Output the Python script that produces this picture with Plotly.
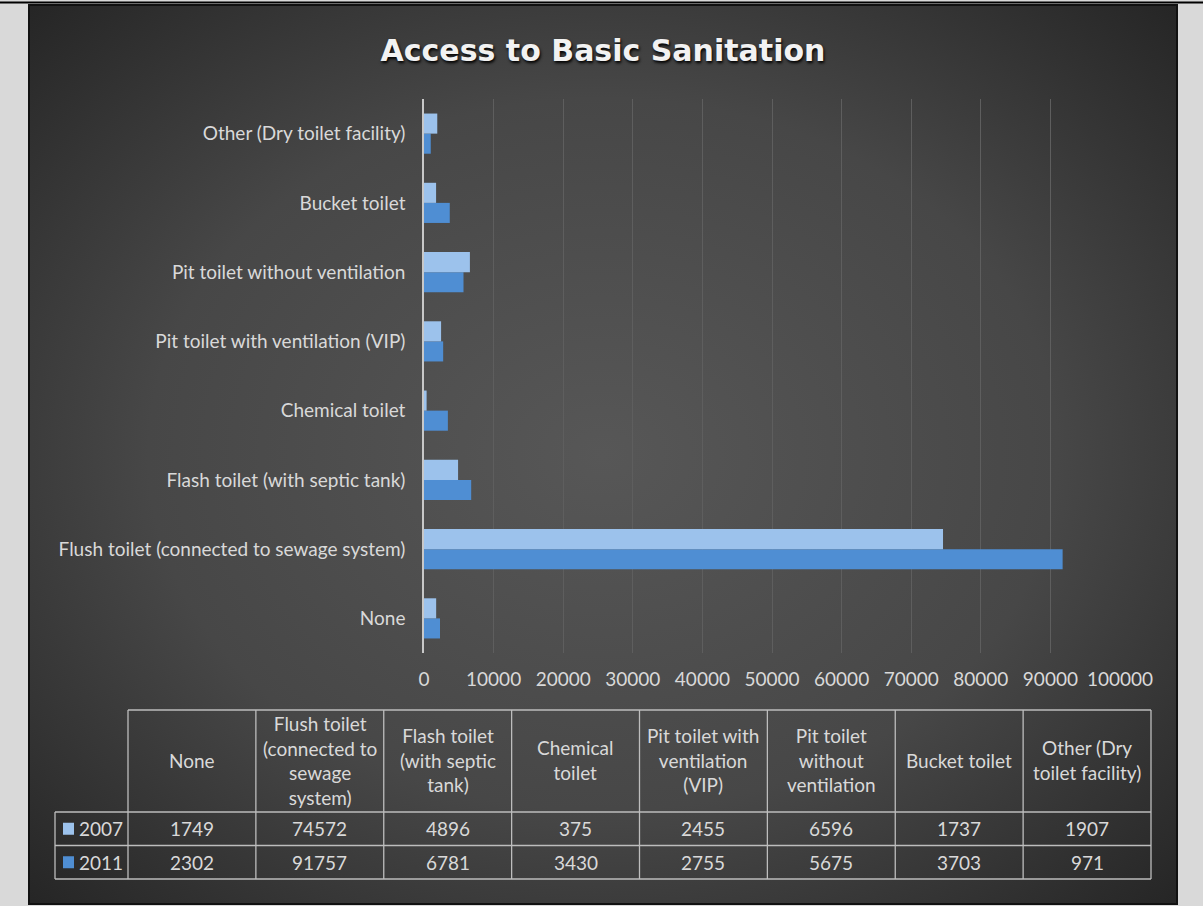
import base64
import plotly.graph_objects as go

# ---------------- data ----------------
categories = [
    "None",
    "Flush toilet (connected to sewage system)",
    "Flash toilet (with septic tank)",
    "Chemical toilet",
    "Pit toilet with ventilation (VIP)",
    "Pit toilet without ventilation",
    "Bucket toilet",
    "Other (Dry toilet facility)",
]
table_headers = [
    "None",
    "Flush toilet<br>(connected to<br>sewage<br>system)",
    "Flash toilet<br>(with septic<br>tank)",
    "Chemical<br>toilet",
    "Pit toilet with<br>ventilation<br>(VIP)",
    "Pit toilet<br>without<br>ventilation",
    "Bucket toilet",
    "Other (Dry<br>toilet facility)",
]
series_names = ["2007", "2011"]
values_2007 = [1749, 74572, 4896, 375, 2455, 6596, 1737, 1907]
values_2011 = [2302, 91757, 6781, 3430, 2755, 5675, 3703, 971]
x_tick_values = [0, 10000, 20000, 30000, 40000, 50000, 60000, 70000, 80000, 90000, 100000]
x_tick_labels = ["0", "10000", "20000", "30000", "40000", "50000", "60000", "70000", "80000", "90000", "100000"]
title_text = "Access to Basic Sanitation"

# ---------------- styles / layout constants ----------------
W, H = 1203, 906
color_2007 = "#9cc2ec"
color_2011 = "#4f8ed3"
text_color = "#d9d9d9"
line_color = "#bdbdbd"
FONT = "Lato"
FS = 19


def fx(px):
    return px / W


def fy(py):
    return 1 - py / H


fig = go.Figure()
fig.add_trace(go.Bar(
    y=categories, x=values_2011, name=series_names[1], orientation="h",
    marker=dict(color=color_2011, line=dict(width=0)),
))
fig.add_trace(go.Bar(
    y=categories, x=values_2007, name=series_names[0], orientation="h",
    marker=dict(color=color_2007, line=dict(width=0)),
))

# background gradient image (dark radial)
svg = (
    '<svg xmlns="http://www.w3.org/2000/svg" width="1148" height="900" viewBox="0 0 1148 900" preserveAspectRatio="none">'
    '<defs><radialGradient id="g" cx="50%" cy="50%" r="72%">'
    '<stop offset="0" stop-color="#575757"/><stop offset="0.55" stop-color="#474747"/>'
    '<stop offset="1" stop-color="#242424"/></radialGradient></defs>'
    '<rect x="0" y="0" width="1148" height="900" fill="url(#g)"/></svg>'
)
src = "data:image/svg+xml;base64," + base64.b64encode(svg.encode()).decode()

shapes = []
annotations = []

# frame
shapes.append(dict(type="line", xref="paper", yref="paper", x0=0, x1=1, y0=fy(2.5), y1=fy(2.5),
                   line=dict(color="#000000", width=2), layer="above"))
shapes.append(dict(type="rect", xref="paper", yref="paper", x0=fx(29), x1=fx(1177), y0=fy(5), y1=fy(904),
                   line=dict(color="#111111", width=2), fillcolor="rgba(0,0,0,0)", layer="above"))

# data table
tbl_left, key_right, tbl_right = 55, 128, 1151
hdr_top, hdr_bot = 710, 812
row_h = 33.5
ncol = len(categories)
col_w = (tbl_right - key_right) / ncol
col_edges = [key_right + i * col_w for i in range(ncol + 1)]
row_edges = [hdr_bot + i * row_h for i in range(len(series_names) + 1)]
lw = 1.3
shapes.append(dict(type="line", xref="paper", yref="paper", x0=fx(key_right), x1=fx(tbl_right),
                   y0=fy(hdr_top), y1=fy(hdr_top), line=dict(color=line_color, width=lw)))
for ry in row_edges:
    shapes.append(dict(type="line", xref="paper", yref="paper", x0=fx(tbl_left), x1=fx(tbl_right),
                       y0=fy(ry), y1=fy(ry), line=dict(color=line_color, width=lw)))
for cx in col_edges:
    shapes.append(dict(type="line", xref="paper", yref="paper", x0=fx(cx), x1=fx(cx),
                       y0=fy(hdr_top), y1=fy(row_edges[-1]), line=dict(color=line_color, width=lw)))
shapes.append(dict(type="line", xref="paper", yref="paper", x0=fx(tbl_left), x1=fx(tbl_left),
                   y0=fy(hdr_bot), y1=fy(row_edges[-1]), line=dict(color=line_color, width=lw)))

for i, h in enumerate(table_headers):
    cx = (col_edges[i] + col_edges[i + 1]) / 2
    annotations.append(dict(xref="paper", yref="paper", x=fx(cx), y=fy((hdr_top + hdr_bot) / 2 - 1),
                            text=h, showarrow=False, xanchor="center", yanchor="middle",
                            font=dict(family=FONT, size=FS, color=text_color)))
for r, (name, vals, col) in enumerate(zip(series_names, [values_2007, values_2011], [color_2007, color_2011])):
    cy = (row_edges[r] + row_edges[r + 1]) / 2
    shapes.append(dict(type="rect", xref="paper", yref="paper", x0=fx(63), x1=fx(74),
                       y0=fy(cy - 6), y1=fy(cy + 6), fillcolor=col, line=dict(width=0)))
    annotations.append(dict(xref="paper", yref="paper", x=fx(77), y=fy(cy), text=name, showarrow=False,
                            xanchor="left", yanchor="middle",
                            font=dict(family=FONT, size=FS, color=text_color)))
    for i, v in enumerate(vals):
        cx = (col_edges[i] + col_edges[i + 1]) / 2
        annotations.append(dict(xref="paper", yref="paper", x=fx(cx), y=fy(cy), text=str(v),
                                showarrow=False, xanchor="center", yanchor="middle",
                                font=dict(family=FONT, size=FS, color=text_color)))

fig.update_layout(
    width=W, height=H,
    autosize=False,
    margin=dict(l=0, r=0, t=0, b=0, pad=0, autoexpand=False),
    paper_bgcolor="#d9d9d9",
    plot_bgcolor="rgba(0,0,0,0)",
    showlegend=False,
    barmode="group",
    bargap=0.42,
    bargroupgap=0,
    title=dict(text=title_text, x=fx(603), y=fy(50), xanchor="center", yanchor="middle",
               xref="paper", yref="paper", automargin=False,
               font=dict(family="DejaVu Sans", size=30, color="#f2f2f2", weight="bold",
                         shadow="1px 2px 3px #000000")),
    xaxis=dict(domain=[fx(424), fx(1120)], range=[0, 100000], tickvals=x_tick_values, ticktext=x_tick_labels,
               showgrid=True, gridcolor="#5e5e5e", gridwidth=1, zeroline=False, showline=False,
               ticks="", tickfont=dict(family=FONT, size=FS, color=text_color), ticklabelstandoff=13,
               automargin=False, fixedrange=True),
    yaxis=dict(domain=[fy(653), fy(99)], type="category", categoryorder="array", categoryarray=categories,
               showgrid=False, zeroline=False, showline=True, linecolor="#c8c8c8", linewidth=1.5,
               ticks="", tickfont=dict(family=FONT, size=FS, color=text_color), ticklabelstandoff=13,
               automargin=False, fixedrange=True),
    images=[dict(source=src, xref="paper", yref="paper", x=fx(29), y=fy(5),
                 sizex=fx(1177) - fx(29), sizey=(904 - 5) / H, xanchor="left", yanchor="top",
                 sizing="stretch", layer="below")],
    shapes=shapes,
    annotations=annotations,
)

fig.write_html("out.html")
